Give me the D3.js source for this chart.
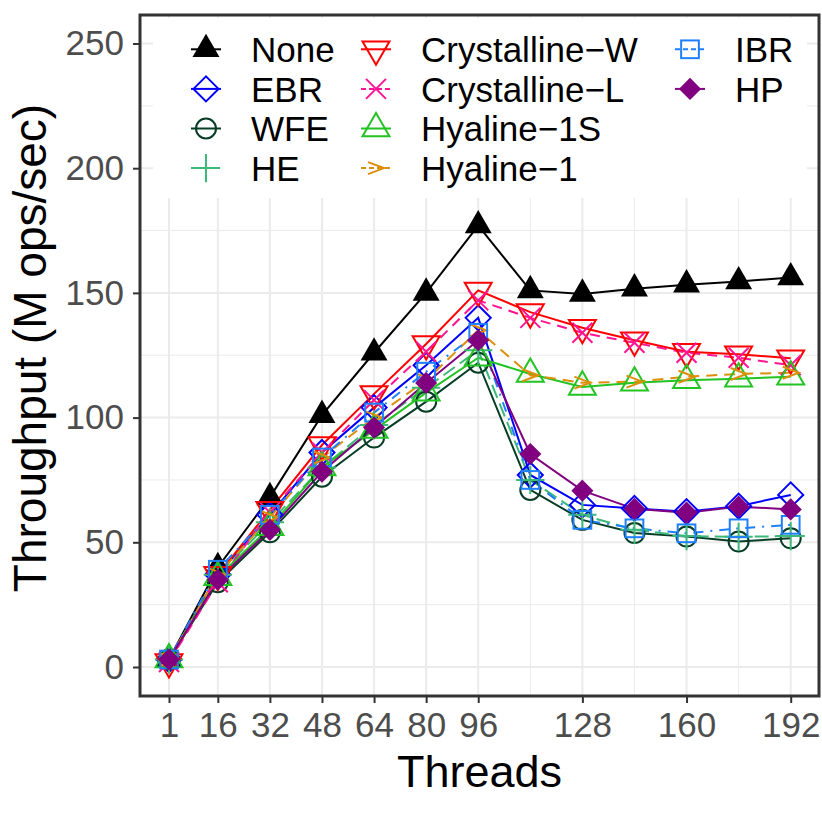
<!DOCTYPE html>
<html>
<head>
<meta charset="utf-8">
<script src="https://cdn.jsdelivr.net/npm/d3@7"></script>
<style>
  body { margin: 0; background: #fff; }
  svg { display: block; font-family: "Liberation Sans", Arial, sans-serif; }
</style>
</head>
<body>
<svg id="chart" width="822" height="822"></svg>
<script>
// thread counts on the x axis
var threads = [1, 16, 32, 48, 64, 80, 96, 112, 128, 144, 160, 176, 192];
var xTicks = [1, 16, 32, 48, 64, 80, 96, 128, 160, 192];
var xMinor = [112, 144, 176];
var yTicks = [0, 50, 100, 150, 200, 250];
var yMinor = [25, 75, 125, 175, 225];

// throughput, M ops/sec
var none   = [3, 40, 68, 101, 126, 150, 177, 151, 149.6, 151.7, 153.3, 154.6, 156.2];
var ebr    = [3, 37, 61, 86, 104, 121, 140, 77, 65, 63.6, 62.3, 64.5, 69];
var wfe    = [3, 34, 54, 76.3, 92, 106.4, 122, 71, 59, 53.7, 52.3, 50.3, 51.6];
var he     = [3, 37, 58, 80, 97, 112, 127, 75, 61, 55, 52.5, 52.2, 52.5];
var crystW = [2, 37, 63, 89, 109.5, 129.5, 151, 142.3, 136, 131, 126.4, 125.4, 123.8];
var crystL = [2, 34, 62, 86, 107, 126.4, 147, 140, 134, 130, 126, 124, 121];
var hyal1S = [3, 36, 56, 80, 95, 110, 124, 117.5, 112.3, 114, 115, 115.6, 116.4];
var hyal1  = [3, 37, 60, 84, 100, 115, 135, 117, 114, 114.4, 116.4, 117.5, 118];
var ibr    = [3, 39, 61, 84, 102, 118.4, 134, 75, 59, 55.6, 53.6, 55.6, 57];
var hp     = [3, 35, 55, 78.3, 96, 113.9, 131, 85.4, 70.7, 63.4, 61.9, 64.3, 63.2];

var series = [
  {name: 'None',          values: none,   color: '#000000', shape: 'triFill', dash: null},
  {name: 'EBR',           values: ebr,    color: '#0000ff', shape: 'diamond', dash: null},
  {name: 'WFE',           values: wfe,    color: '#073d25', shape: 'circle',  dash: null},
  {name: 'HE',            values: he,     color: '#3cb878', shape: 'plus',    dash: '14,6'},
  {name: 'Crystalline\u2212W', values: crystW, color: '#ff0000', shape: 'triDown', dash: null},
  {name: 'Crystalline\u2212L', values: crystL, color: '#ff1493', shape: 'cross',   dash: '10,7'},
  {name: 'Hyaline\u22121S', values: hyal1S, color: '#22c322', shape: 'triUp',   dash: null},
  {name: 'Hyaline\u22121',  values: hyal1,  color: '#dd8f0b', shape: 'chevron', dash: '11,7'},
  {name: 'IBR',           values: ibr,    color: '#1f7fff', shape: 'square',  dash: '2,7,10,7'},
  {name: 'HP',            values: hp,     color: '#800080', shape: 'diamondFill', dash: null}
];

var svg = d3.select('#chart');
var panel = {l: 140, r: 819, t: 15, b: 696};

var x = d3.scaleLinear().domain([1, 192]).range([169, 790.7]);
var y = d3.scaleLinear().domain([0, 250]).range([667, 43.5]);

// grid
var grid = svg.append('g');
grid.selectAll('.hmin').data(yMinor).enter().append('line')
  .attr('x1', panel.l).attr('x2', panel.r)
  .attr('y1', function(d) { return y(d); }).attr('y2', function(d) { return y(d); })
  .attr('stroke', '#ebebeb').attr('stroke-width', 1);
grid.selectAll('.vmin').data(xMinor).enter().append('line')
  .attr('y1', panel.t).attr('y2', panel.b)
  .attr('x1', function(d) { return x(d); }).attr('x2', function(d) { return x(d); })
  .attr('stroke', '#ebebeb').attr('stroke-width', 1);
grid.selectAll('.hmaj').data(yTicks).enter().append('line')
  .attr('x1', panel.l).attr('x2', panel.r)
  .attr('y1', function(d) { return y(d); }).attr('y2', function(d) { return y(d); })
  .attr('stroke', '#ebebeb').attr('stroke-width', 2);
grid.selectAll('.vmaj').data(xTicks).enter().append('line')
  .attr('y1', panel.t).attr('y2', panel.b)
  .attr('x1', function(d) { return x(d); }).attr('x2', function(d) { return x(d); })
  .attr('stroke', '#ebebeb').attr('stroke-width', 2);

// marker shapes, R-like sizes
function drawMarker(g, shape, color) {
  var R = 10;
  var sw = 2;
  function tri(dir) {
    return 'M0,' + (-dir * 1.555 * R) + 'L' + (1.347 * R) + ',' + (dir * 0.778 * R) +
           'L' + (-1.347 * R) + ',' + (dir * 0.778 * R) + 'Z';
  }
  var d = 1.253 * R, s = 0.886 * R, p = 1.414 * R;
  switch (shape) {
    case 'triFill':
      g.append('path').attr('d', tri(1)).attr('fill', color); break;
    case 'triUp':
      g.append('path').attr('d', tri(1)).attr('fill', 'none').attr('stroke', color).attr('stroke-width', sw); break;
    case 'triDown':
      g.append('path').attr('d', tri(-1)).attr('fill', 'none').attr('stroke', color).attr('stroke-width', sw); break;
    case 'diamond':
      g.append('path').attr('d', 'M0,' + (-d) + 'L' + d + ',0L0,' + d + 'L' + (-d) + ',0Z')
        .attr('fill', 'none').attr('stroke', color).attr('stroke-width', sw); break;
    case 'diamondFill':
      g.append('path').attr('d', 'M0,-10L10,0L0,10L-10,0Z')
        .attr('fill', color).attr('stroke', color).attr('stroke-width', 1.5); break;
    case 'circle':
      g.append('circle').attr('r', R).attr('fill', 'none').attr('stroke', color).attr('stroke-width', sw); break;
    case 'square':
      g.append('rect').attr('x', -s).attr('y', -s).attr('width', 2 * s).attr('height', 2 * s)
        .attr('fill', 'none').attr('stroke', color).attr('stroke-width', sw); break;
    case 'plus':
      g.append('path').attr('d', 'M' + (-p) + ',0H' + p + 'M0,' + (-p) + 'V' + p)
        .attr('stroke', color).attr('stroke-width', sw); break;
    case 'cross':
      g.append('path').attr('d', 'M-10,-10L10,10M-10,10L10,-10')
        .attr('stroke', color).attr('stroke-width', sw); break;
    case 'chevron':
      g.append('path').attr('d', 'M-8,-6L8,0L-8,6')
        .attr('fill', 'none').attr('stroke', color).attr('stroke-width', sw); break;
  }
}

// lines first, then points
var line = d3.line()
  .x(function(d, i) { return x(threads[i]); })
  .y(function(d) { return y(d); });

svg.append('g').selectAll('path').data(series).enter().append('path')
  .attr('d', function(s) { return line(s.values); })
  .attr('fill', 'none')
  .attr('stroke', function(s) { return s.color; })
  .attr('stroke-width', 2)
  .attr('stroke-dasharray', function(s) { return s.dash; });

series.forEach(function(s) {
  var g = svg.append('g');
  s.values.forEach(function(v, i) {
    drawMarker(g.append('g').attr('transform', 'translate(' + x(threads[i]) + ',' + y(v) + ')'), s.shape, s.color);
  });
});

// axes
var xAxis = svg.append('g').attr('transform', 'translate(0,' + panel.b + ')')
  .call(d3.axisBottom(x).tickValues(xTicks).tickSize(7).tickPadding(9).tickFormat(d3.format('d')));
var yAxis = svg.append('g').attr('transform', 'translate(' + panel.l + ',0)')
  .call(d3.axisLeft(y).tickValues(yTicks).tickSize(7).tickPadding(9));
[xAxis, yAxis].forEach(function(a) {
  a.select('.domain').remove();
  a.selectAll('.tick line').attr('stroke', '#333333').attr('stroke-width', 2);
  a.selectAll('.tick text').attr('fill', '#4d4d4d').style('font-size', '35px')
    .style('font-family', '"Liberation Sans", Arial, sans-serif');
});

svg.append('text')
  .attr('x', (panel.l + panel.r) / 2).attr('y', 787)
  .attr('text-anchor', 'middle')
  .style('font-size', '45px')
  .text('Threads');

svg.append('text')
  .attr('transform', 'translate(46,348) rotate(-90)')
  .attr('text-anchor', 'middle')
  .style('font-size', '46px')
  .text('Throughput (M ops/sec)');

// legend inside the panel, three columns filled top to bottom
var legend = svg.append('g');
legend.append('rect')
  .attr('x', 153).attr('y', 18).attr('width', 654).attr('height', 180)
  .attr('fill', '#fff');
var colX = [206, 376, 690];
series.forEach(function(s, i) {
  var kx = colX[Math.floor(i / 4)];
  var ky = 49.3 + (i % 4) * 39.6;
  var k = legend.append('g').attr('transform', 'translate(' + kx + ',' + ky + ')');
  k.append('line').attr('x1', -15).attr('x2', 15)
    .attr('stroke', s.color).attr('stroke-width', 2)
    .attr('stroke-dasharray', s.dash ? '5,3' : null);
  drawMarker(k, s.shape, s.color);
  legend.append('text')
    .attr('x', kx + 45).attr('y', ky).attr('dy', '0.36em')
    .style('font-size', '35px')
    .text(s.name);
});

// panel border on top
svg.append('rect')
  .attr('x', panel.l).attr('y', panel.t)
  .attr('width', panel.r - panel.l).attr('height', panel.b - panel.t)
  .attr('fill', 'none').attr('stroke', '#333333').attr('stroke-width', 3);
</script>
</body>
</html>
